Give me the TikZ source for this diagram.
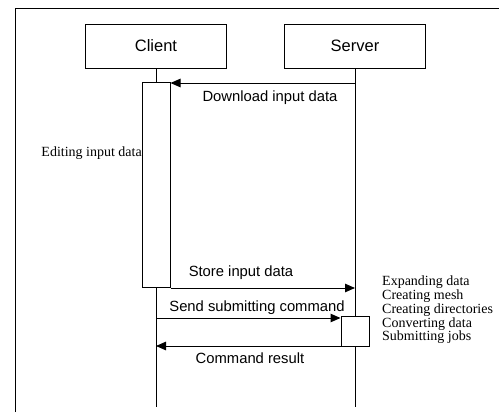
\documentclass[tikz,border=0pt]{standalone}
\usepackage{fontspec}
\setmainfont{Liberation Sans}
\newfontfamily\serifface{Liberation Serif}
\usetikzlibrary{arrows.meta}
\begin{document}
\begin{tikzpicture}[x=1pt,y=-1pt,
  actor/.style={draw, line width=1pt, minimum width=141pt, minimum height=44pt,
                inner sep=0pt, font=\fontsize{16.5}{19}\selectfont},
  activation/.style={draw, line width=1pt, inner sep=0pt, minimum width=28pt},
  life/.style={line width=1pt},
  msg/.style={line width=1pt, -{Triangle[length=10pt,width=8.5pt]}},
  lbl/.style={inner sep=0pt, font=\fontsize{14.8}{17}\selectfont},
  note/.style={inner sep=0pt, align=left, font=\serifface\fontsize{14}{11.3}\selectfont}]
\useasboundingbox (0,0) rectangle (499,418);

% frame
\draw[line width=0.8pt] (15,412) -- (15,8) -- (499,8);

% participants
\node[actor] (client) at (156,46) {Client};
\node[actor] (server) at (355,46) {Server};

% activation bars
\node[activation, minimum height=205pt] (cact) at (156,184.5) {};
\node[activation, minimum height=30pt]  (sact) at (355,331) {};

% lifeline ends
\coordinate (cend) at (156,407);
\coordinate (send) at (355,407);

% lifelines
\draw[life] (client.south) -- (cact.north);
\draw[life] (cact.south) -- (cend);
\draw[life] (server.south) -- (sact.north);
\draw[life] (sact.south) -- (send);

% message levels
\coordinate (dl) at (0,83);
\coordinate (st) at (0,288);
\coordinate (sd) at (0,318);
\coordinate (rs) at (0,346);

% messages
\draw[msg] (server.south |- dl) -- (cact.east |- dl);
\draw[msg] (cact.east |- st) -- (server.south |- st);
\draw[msg] (client.south |- sd) -- (sact.west |- sd);
\draw[msg] (sact.west |- rs) -- (client.south |- rs);

% message labels
\node[lbl] (ldl) at (270,98) {Download input data};
\node[lbl] (lst) at (241,273) {Store input data};
\node[lbl] (lsd) at (257,308) {Send submitting command};
\node[lbl] (lrs) at (250,358) {Command result};

% notes
\node[note, anchor=east] (edit) at (142,153) {Editing input data};
\node[note, anchor=north west] (tasks) at (382,276) {Expanding data\\Creating mesh\\Creating directories\\Converting data\\Submitting jobs};
\end{tikzpicture}
\end{document}
